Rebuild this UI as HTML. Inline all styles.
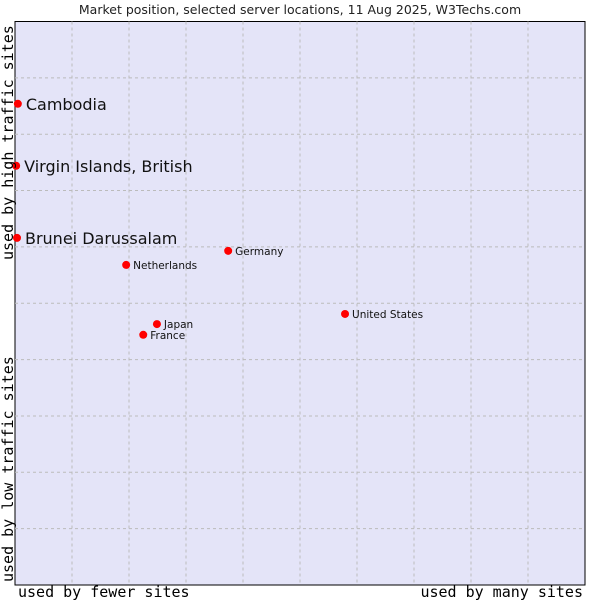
<!DOCTYPE html>
<html><head><meta charset="utf-8"><style>
html,body{margin:0;padding:0;background:#fff;}
svg{display:block;font-family:"DejaVu Sans","Liberation Sans",sans-serif;}
</style></head><body>
<svg id="chart" width="600" height="600">
<text x="300" y="14" text-anchor="middle" font-size="12.5" fill="#222">Market position, selected server locations, 11 Aug 2025, W3Techs.com</text>
<rect x="15" y="21.5" width="570" height="563.5" fill="#e4e4f8" stroke="#000" stroke-width="1"/>
<g id="grid"></g>
<g id="points"></g>
<text x="18" y="597" font-family="'DejaVu Sans Mono','Liberation Mono',monospace" font-size="15" fill="#000">used by fewer sites</text>
<text x="583" y="597" text-anchor="end" font-family="'DejaVu Sans Mono','Liberation Mono',monospace" font-size="15" fill="#000">used by many sites</text>
<text transform="translate(13,260) rotate(-90)" font-family="'DejaVu Sans Mono','Liberation Mono',monospace" font-size="15" fill="#000">used by high traffic sites</text>
<text transform="translate(13,582) rotate(-90)" font-family="'DejaVu Sans Mono','Liberation Mono',monospace" font-size="15" fill="#000">used by low traffic sites</text>
</svg>
<script>
const countries = ["Cambodia","Virgin Islands, British","Brunei Darussalam","Germany","Netherlands","United States","Japan","France"];
const xValues = [0.5,0.2,0.35,37.4,19.5,57.9,24.9,22.5];
const yValues = [85.4,74.4,61.6,59.3,56.8,48.1,46.3,44.4];
const labelSizes = [16,16,16,10.5,10.5,10.5,10.5,10.5];
const gridTicks = [10,20,30,40,50,60,70,80,90];
const NS="http://www.w3.org/2000/svg";
const X0=15,X1=585,Y0=585,Y1=21.5;
function sx(v){return X0+(X1-X0)*v/100;}
function sy(v){return Y0-(Y0-Y1)*v/100;}
const grid=document.getElementById('grid');
gridTicks.forEach(t=>{
  let l=document.createElementNS(NS,'line');
  l.setAttribute('x1',sx(t));l.setAttribute('x2',sx(t));l.setAttribute('y1',Y1);l.setAttribute('y2',Y0);
  l.setAttribute('stroke','#bbb');l.setAttribute('stroke-dasharray','3,3');
  
  
  grid.appendChild(l);
  let h=document.createElementNS(NS,'line');
  h.setAttribute('x1',X0);h.setAttribute('x2',X1);h.setAttribute('y1',sy(t));h.setAttribute('y2',sy(t));
  h.setAttribute('stroke','#bbb');h.setAttribute('stroke-dasharray','3,3');
  
  
  grid.appendChild(h);
});
const pts=document.getElementById('points');
countries.forEach((c,i)=>{
  const x=sx(xValues[i]),y=sy(yValues[i]);
  let m=document.createElementNS(NS,'circle');
  m.setAttribute('cx',x);m.setAttribute('cy',y);m.setAttribute('r',4);m.setAttribute('fill','#f00');
  
  
  pts.appendChild(m);
  let t=document.createElementNS(NS,'text');
  const big=labelSizes[i]>12;
  t.setAttribute('x',x+(big?8:7));t.setAttribute('y',y+(big?6:4));
  t.setAttribute('font-size',labelSizes[i]);t.setAttribute('fill','#111');
  t.textContent=c;
  
  
  pts.appendChild(t);
});
</script>
</body></html>
